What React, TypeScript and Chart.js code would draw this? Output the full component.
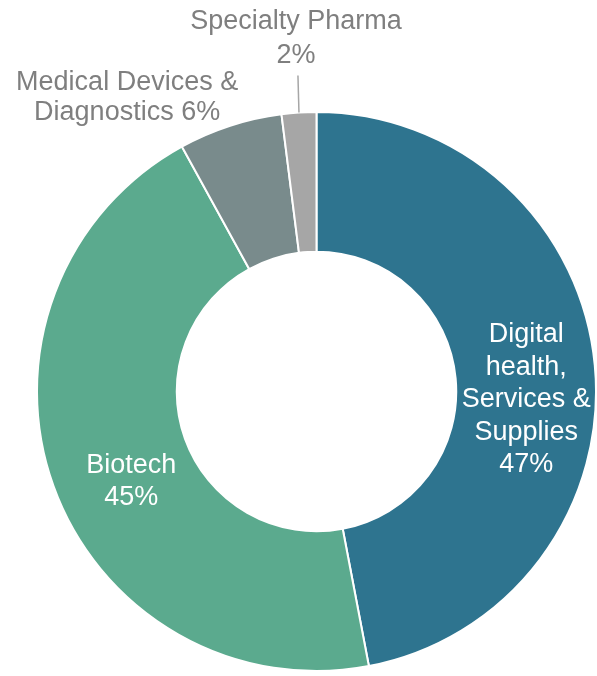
import React, { useEffect, useRef } from "react";
import { Chart, registerables } from "chart.js";

Chart.register(...registerables);

const categories = [
  "Digital health, Services & Supplies",
  "Biotech",
  "Medical Devices & Diagnostics",
  "Specialty Pharma",
];
const shares = [47, 45, 6, 2];
const labelLines = [
  ["Digital", "health,", "Services &", "Supplies"],
  ["Biotech"],
  ["Medical Devices &", "Diagnostics"],
  ["Specialty Pharma"],
];
const pctInline = [false, false, true, false];
const sliceColors = ["#2E748F", "#5BAA8E", "#798B8C", "#A6A6A6"];

// label placement (relative to slice centroid / outer edge)
const labelStyle = [
  { inside: true, dx: 1, dy: 28, lh: 32.5, color: "#FFFFFF" },
  { inside: true, dx: 12, dy: 19, lh: 32, color: "#FFFFFF" },
  { inside: false, dx: -103, dy: -28, lh: 29.5, color: "#7F7F7F" },
  { inside: false, dx: -3, dy: -74, lh: 34, color: "#7F7F7F", leader: true },
];

const FONT = "27px 'Liberation Sans', Arial, sans-serif";

const labelPlugin = {
  id: "sliceLabels",
  afterDatasetsDraw(chart: any) {
    const ctx = chart.ctx;
    const meta = chart.getDatasetMeta(0);
    const values = chart.data.datasets[0].data as number[];
    ctx.save();
    ctx.font = FONT;
    ctx.textAlign = "center";
    ctx.textBaseline = "middle";
    meta.data.forEach((arc: any, i: number) => {
      const st = labelStyle[i];
      const props = arc.getProps(["x", "y", "startAngle", "endAngle", "innerRadius", "outerRadius"], true);
      const mid = (props.startAngle + props.endAngle) / 2;
      const r = st.inside ? (props.innerRadius + props.outerRadius) / 2 : props.outerRadius;
      const ax = props.x + Math.cos(mid) * r;
      const ay = props.y + Math.sin(mid) * r;
      const lines = [...labelLines[i]];
      const pct = `${values[i]}%`;
      if (pctInline[i]) lines[lines.length - 1] = lines[lines.length - 1] + " " + pct;
      else lines.push(pct);
      const cx = ax + st.dx;
      const cy = ay + st.dy;
      const total = (lines.length - 1) * st.lh;
      ctx.fillStyle = st.color;
      lines.forEach((ln, k) => {
        ctx.fillText(ln, cx, cy - total / 2 + k * st.lh);
      });
      if (st.leader) {
        ctx.strokeStyle = "#A6A6A6";
        ctx.lineWidth = 1.5;
        ctx.beginPath();
        ctx.moveTo(ax, ay);
        ctx.lineTo(cx + 2, cy + total / 2 + 20);
        ctx.stroke();
      }
    });
    ctx.restore();
  },
};

export default function App() {
  const ref = useRef<HTMLCanvasElement | null>(null);
  useEffect(() => {
    if (!ref.current) return;
    const chart = new Chart(ref.current, {
      type: "doughnut",
      data: {
        labels: categories,
        datasets: [
          {
            data: shares,
            backgroundColor: sliceColors,
            borderColor: "#FFFFFF",
            borderWidth: 2,
            hoverOffset: 0,
          },
        ],
      },
      options: {
        responsive: false,
        animation: false,
        cutout: "50%",
        layout: { padding: { left: 36, right: 0, top: 111, bottom: 4 } },
        plugins: {
          legend: { display: false },
          tooltip: { enabled: false },
        },
      },
      plugins: [labelPlugin],
    });
    return () => chart.destroy();
  }, []);
  return (
    <div style={{ position: "absolute", left: 0, top: 0, width: 597, height: 676, background: "#fff" }}>
      <canvas ref={ref} width={597} height={676} style={{ width: 597, height: 676 }} />
    </div>
  );
}
